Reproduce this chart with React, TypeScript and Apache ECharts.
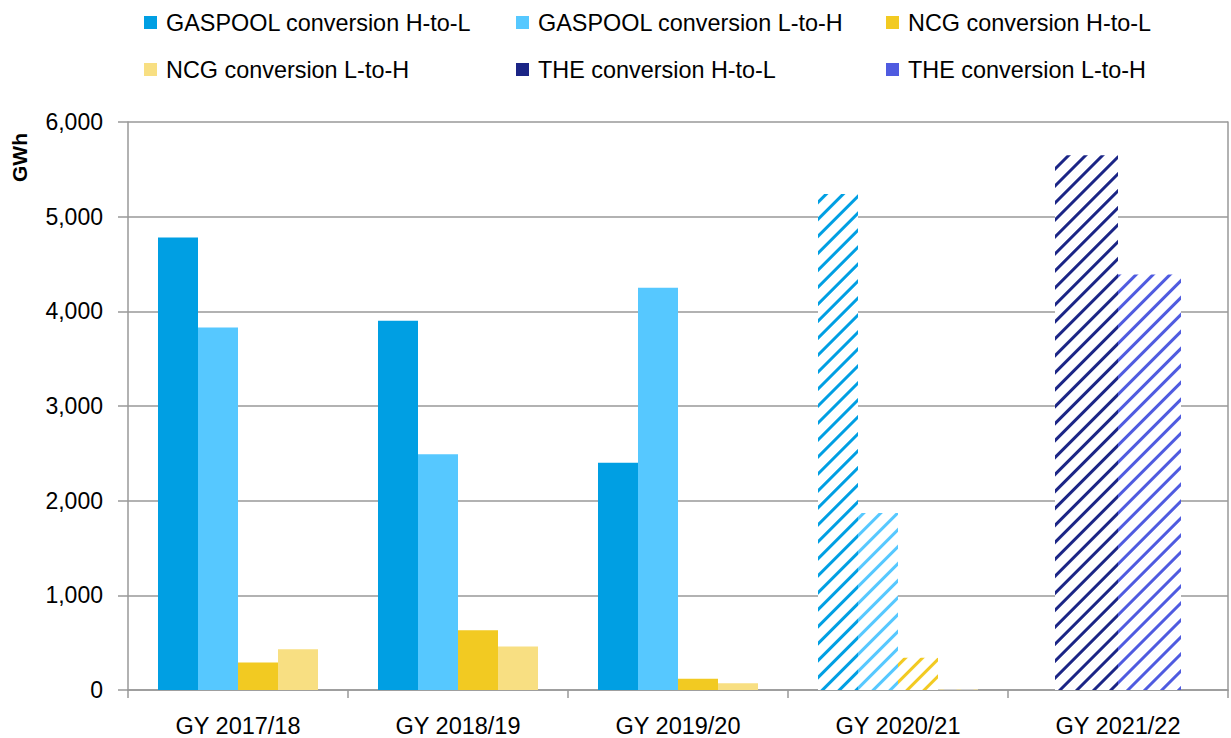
import React, { useEffect, useRef } from "react";
import * as echarts from "echarts";

const categories = ["GY 2017/18", "GY 2018/19", "GY 2019/20", "GY 2020/21", "GY 2021/22"];
const seriesNames = [
  "GASPOOL conversion H-to-L",
  "GASPOOL conversion L-to-H",
  "NCG conversion H-to-L",
  "NCG conversion L-to-H",
  "THE conversion H-to-L",
  "THE conversion L-to-H",
];
const gaspoolHtoL = [4780, 3900, 2400, 5240, null];
const gaspoolLtoH = [3830, 2490, 4250, 1870, null];
const ncgHtoL = [290, 630, 120, 340, null];
const ncgLtoH = [430, 460, 70, 5, null];
const theHtoL = [null, null, null, null, 5650];
const theLtoH = [null, null, null, null, 4390];
const yTicks = [0, 1000, 2000, 3000, 4000, 5000, 6000];
// categories whose bars are hatched
const hatchedCategories = ["GY 2020/21", "GY 2021/22"];

const colors = ["#009FE3", "#56C8FF", "#F2CA22", "#F8DF82", "#1B2586", "#4F5BE0"];
const FONT = "Liberation Sans";

function buildData(values: (number | null)[], color: string) {
  return values.map((v, i) => {
    if (v === null) return null;
    if (hatchedCategories.includes(categories[i])) {
      return {
        value: v,
        itemStyle: {
          color: "#ffffff",
          decal: {
            symbol: "rect",
            symbolSize: 1,
            color: color,
            backgroundColor: "#ffffff",
            dashArrayX: [1, 0],
            dashArrayY: [3, 9],
            rotation: -Math.PI / 4,
          },
        },
      };
    }
    return v;
  });
}

export default function App() {
  const ref = useRef<HTMLDivElement>(null);
  useEffect(() => {
    if (!ref.current) return;
    const chart = echarts.init(ref.current, null, { renderer: "svg" });
    const values = [gaspoolHtoL, gaspoolLtoH, ncgHtoL, ncgLtoH, theHtoL, theLtoH];
    const legendPos = [
      { left: 139, top: 6 },
      { left: 511, top: 6 },
      { left: 881, top: 6 },
      { left: 139, top: 53 },
      { left: 511, top: 53 },
      { left: 881, top: 53 },
    ];
    const option: any = {
      animation: false,
      textStyle: { fontFamily: FONT },
      legend: seriesNames.map((n, i) => ({
        data: [n],
        left: legendPos[i].left,
        top: legendPos[i].top,
        icon: "rect",
        itemWidth: 13,
        itemHeight: 13,
        selectedMode: false,
        textStyle: { fontSize: 23.4, color: "#000", fontFamily: FONT, padding: [0, 0, 0, 4] },
      })),
      grid: { left: 128, top: 122, right: 3, bottom: 48, containLabel: false },
      xAxis: [
        {
          type: "category",
          data: categories,
          axisLine: { show: true, lineStyle: { color: "#999", width: 1.5 } },
          axisTick: { show: true, length: 8, lineStyle: { color: "#999", width: 1.5 } },
          axisLabel: { fontSize: 23.5, color: "#000", margin: 24, fontFamily: FONT },
        },
        {
          type: "category",
          data: categories,
          show: false,
          position: "bottom",
        },
      ],
      yAxis: [
        {
          type: "value",
          min: 0,
          max: 6000,
          interval: 1000,
          axisLine: { show: true, lineStyle: { color: "#999", width: 1.5 } },
          axisTick: { show: true, length: 10, lineStyle: { color: "#999", width: 1.5 } },
          splitLine: { show: true, lineStyle: { color: "#999", width: 1.5 } },
          axisLabel: {
            fontSize: 23,
            color: "#000",
            margin: 25,
            fontFamily: FONT,
            formatter: (v: number) => (yTicks.includes(v) ? v.toLocaleString("en-US") : ""),
          },
        },
        {
          type: "value",
          min: 0,
          max: 6000,
          interval: 1000,
          position: "right",
          axisLine: { show: true, lineStyle: { color: "#999", width: 1.5 } },
          axisTick: { show: false },
          splitLine: { show: false },
          axisLabel: { show: false },
        },
      ],
      graphic: [
        {
          type: "text",
          x: 9,
          y: 182,
          rotation: Math.PI / 2,
          style: { text: "GWh", fontSize: 21, fontWeight: "bold", fill: "#000", fontFamily: FONT },
        },
      ],
      series: values.map((vals, i) => ({
        name: seriesNames[i],
        type: "bar",
        xAxisIndex: i < 4 ? 0 : 1,
        yAxisIndex: 0,
        barWidth: i < 4 ? 40 : 63,
        barGap: "0%",
        itemStyle: { color: colors[i] },
        data: buildData(vals, colors[i]),
      })),
    };
    chart.setOption(option);
    return () => chart.dispose();
  }, []);
  return (
    <div
      ref={ref}
      style={{ position: "absolute", left: 0, top: 0, width: 1231, height: 738 }}
    />
  );
}
